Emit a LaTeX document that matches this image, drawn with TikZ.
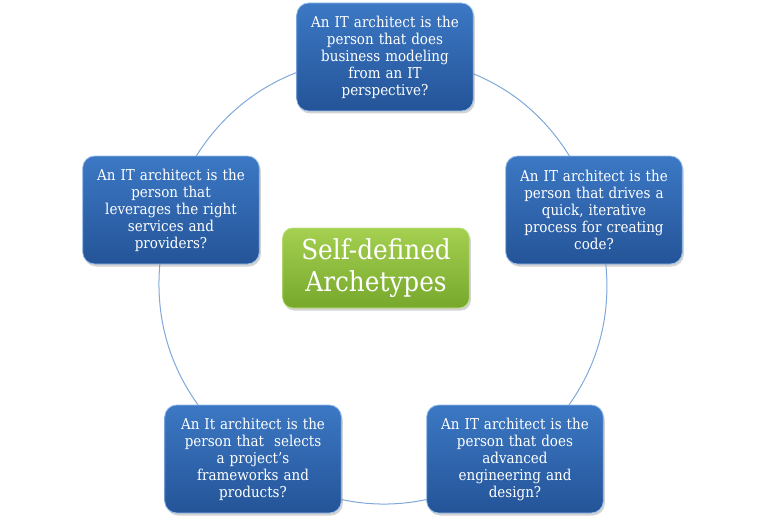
\documentclass[tikz,border=0pt]{standalone}
\usepackage{fontspec}
\setmainfont{DejaVu Serif Condensed}
\usetikzlibrary{shadows,backgrounds}
\definecolor{boxtop}{RGB}{60,120,196}
\definecolor{boxbottom}{RGB}{36,84,152}
\definecolor{boxedge}{RGB}{150,190,235}
\definecolor{greentop}{RGB}{165,208,80}
\definecolor{greenbottom}{RGB}{118,168,44}
\definecolor{greenedge}{RGB}{190,225,130}
\definecolor{ringblue}{RGB}{128,168,218}
\begin{document}
\begin{tikzpicture}[x=1pt,y=-1pt,
    archbox/.style={rounded corners=12pt,top color=boxtop,bottom color=boxbottom,
      draw=boxedge,line width=0.8pt,text=white,minimum width=174pt,minimum height=108pt,
      text width=170pt,align=center,font=\fontsize{15}{17}\selectfont,
      drop shadow={shadow xshift=1.5pt,shadow yshift=-2.5pt,opacity=0.35}},
    corebox/.style={rounded corners=10pt,top color=greentop,bottom color=greenbottom,
      draw=greenedge,line width=0.8pt,text=white,minimum width=185pt,minimum height=80pt,
      text width=180pt,align=center,font=\fontsize{27.5}{32}\selectfont,
      drop shadow={shadow xshift=1.5pt,shadow yshift=-2.5pt,opacity=0.35}},
    ring/.style={draw=ringblue,line width=1pt,bend left=36}]
    \useasboundingbox (0,0) rectangle (768,524);
    \node[archbox] (model) at (385,57) {An IT architect is the\\ person that does\\ business modeling\\ from an IT\\ perspective?};
    \node[archbox] (drive) at (594,210) {An IT architect is the\\ person that drives a\\ quick, iterative\\ process for creating\\ code?};
    \node[archbox] (engineer) at (515,459) {An IT architect is the\\ person that does\\ advanced\\ engineering and\\ design?};
    \node[archbox] (select) at (253,459) {An It architect is the\\ person that\ \ selects\\ a project’s\\ frameworks and\\ products?};
    \node[archbox] (leverage) at (171,210) {An IT architect is the\\ person that\\ leverages the right\\ services and\\ providers?};
    \node[corebox] (core) at (376,268) {Self-defined\\ Archetypes};
    \begin{scope}[on background layer]
    \draw[ring] (model.center) to (drive.center);
    \draw[ring] (drive.center) to (engineer.center);
    \draw[ring] (engineer.center) to (select.center);
    \draw[ring] (select.center) to (leverage.center);
    \draw[ring] (leverage.center) to (model.center);
    \end{scope}
\end{tikzpicture}
\end{document}
